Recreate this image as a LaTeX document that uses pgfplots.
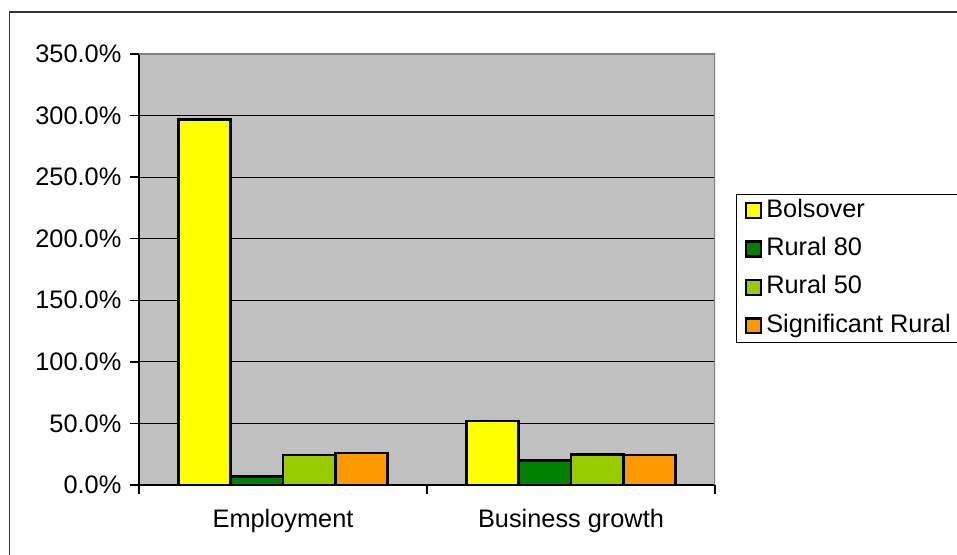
\documentclass[border=0pt]{standalone}
\usepackage{pgfplots}
\pgfplotsset{compat=1.18}
\usepackage{fontspec}
\setmainfont{Liberation Sans}
\definecolor{plotbg}{HTML}{C0C0C0}
\definecolor{cBol}{HTML}{FFFF00}
\definecolor{cR80}{HTML}{008000}
\definecolor{cR50}{HTML}{99CC00}
\definecolor{cSig}{HTML}{FF9900}
\definecolor{bordergray}{HTML}{808080}
\begin{document}
\begin{tikzpicture}[font=\fontsize{19}{22.5}\selectfont]
\useasboundingbox (0pt,0pt) rectangle (717.75pt,416.25pt);
\clip (0pt,0pt) rectangle (717.75pt,416.25pt);
\draw[line width=1.2pt, black!80] (7pt,-5pt) -- (7pt,407.25pt) -- (730pt,407.25pt);
\begin{axis}[
  at={(104.25pt,52.5pt)}, anchor=south west,
  width=432pt, height=323.25pt, scale only axis,
  xmin=-0.5, xmax=1.5, ymin=0, ymax=350,
  axis background/.style={fill=plotbg},
  axis x line*=bottom, axis y line*=left,
  axis line style={black, line width=1pt, -},
  ytick={0,50,...,350},
  ymajorgrids, grid style={black, line width=0.8pt},
  yticklabel={\pgfmathprintnumber[fixed,fixed zerofill,precision=1,assume math mode=true]{\tick}\%},
  xtick={0,1}, xticklabels={Employment, Business growth},
  minor xtick={-0.5,0.5,1.5},
  tick align=outside,
  major tick length=6.75pt,
  minor tick length=6.75pt,
  tick style={black, line width=1pt},
  major x tick style={draw=none},
  yticklabel style={xshift=-3pt},
  xticklabel style={yshift=-7.5pt},
  ybar, bar width=0.1817,
  every axis plot post/.append style={draw=black, line width=1.8pt},
  legend cell align=left,
  legend style={at={(1,0.503)}, anchor=west, xshift=15.75pt,
    draw=black, line width=0.8pt, fill=white,
    inner xsep=6pt, inner ysep=3.5pt,
    row sep=11pt,
    nodes={text height=13.8pt, text depth=4pt, inner ysep=0pt, inner xsep=3pt}},
  legend image code/.code={\draw[#1, line width=1.8pt] (0pt,-5.6pt) rectangle (11.5pt,5.6pt);},
]
\addplot[fill=cBol, bar shift=-0.2725] coordinates {(0,296.7) (1,52.2)};
\addplot[fill=cR80, bar shift=-0.0908] coordinates {(0,6.9) (1,19.8)};
\addplot[fill=cR50, bar shift=0.0908] coordinates {(0,24.5) (1,24.7)};
\addplot[fill=cSig, bar shift=0.2725] coordinates {(0,26.1) (1,24.5)};
\legend{Bolsover, Rural 80, Rural 50, Significant Rural\hspace{25pt}}
\draw[bordergray, line width=1.5pt] (rel axis cs:0,1) -- (rel axis cs:1,1) -- (rel axis cs:1,0);
\end{axis}
\end{tikzpicture}
\end{document}
